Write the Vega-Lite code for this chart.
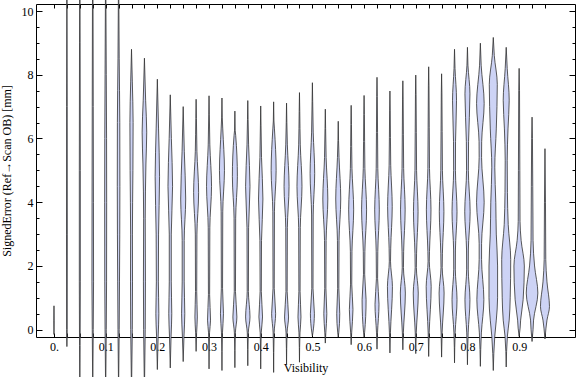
{
  "$schema": "https://vega.github.io/schema/vega-lite/v6.json",
  "width": 539,
  "height": 333,
  "autosize": "none",
  "padding": {"left": 36, "top": 4, "right": 1, "bottom": 40},
  "background": "white",
  "config": {
    "view": {"stroke": "#000", "strokeWidth": 1},
    "axis": {
      "labelFont": "Liberation Serif",
      "labelFontSize": 12,
      "labelColor": "#000",
      "titleFont": "Liberation Serif",
      "titleFontSize": 12,
      "titleFontWeight": "normal",
      "titleColor": "#000",
      "tickColor": "#000",
      "tickWidth": 1,
      "domain": false,
      "grid": false,
      "labelOverlap": false,
      "labelFlush": false,
      "labelBound": false
    }
  },
  "data": {"values": [
    {"v":0,"y":-0.15,"d":0},{"v":0,"y":0.3,"d":0.2},{"v":0,"y":0.75,"d":0},
    {"v":0.025,"y":-0.53,"d":0},{"v":0.025,"y":0,"d":0.3},{"v":0.025,"y":3,"d":0.4},{"v":0.025,"y":7,"d":0.3},{"v":0.025,"y":12,"d":0},
    {"v":0.05,"y":-2,"d":0},{"v":0.05,"y":-0.5,"d":0.3},{"v":0.05,"y":1.5,"d":0.5},{"v":0.05,"y":5,"d":0.5},{"v":0.05,"y":9,"d":0.3},{"v":0.05,"y":12,"d":0},
    {"v":0.075,"y":-2,"d":0},{"v":0.075,"y":0,"d":0.5},{"v":0.075,"y":1.5,"d":0.8},{"v":0.075,"y":4,"d":0.7},{"v":0.075,"y":7,"d":0.5},{"v":0.075,"y":10,"d":0.3},{"v":0.075,"y":12,"d":0},
    {"v":0.1,"y":-2,"d":0},{"v":0.1,"y":0,"d":0.6},{"v":0.1,"y":1.5,"d":0.9},{"v":0.1,"y":4,"d":1.0},{"v":0.1,"y":6,"d":0.9},{"v":0.1,"y":8,"d":0.6},{"v":0.1,"y":10,"d":0.3},{"v":0.1,"y":12,"d":0},
    {"v":0.125,"y":-2,"d":0},{"v":0.125,"y":0,"d":0.6},{"v":0.125,"y":1.5,"d":0.9},{"v":0.125,"y":4.5,"d":1.3},{"v":0.125,"y":6.5,"d":1.2},{"v":0.125,"y":8.5,"d":0.6},{"v":0.125,"y":10.5,"d":0.2},{"v":0.125,"y":12,"d":0},
    {"v":0.15,"y":-2,"d":0},{"v":0.15,"y":0,"d":0.8},{"v":0.15,"y":1.5,"d":1.0},{"v":0.15,"y":3,"d":0.9},{"v":0.15,"y":5,"d":1.4},{"v":0.15,"y":6.5,"d":1.6},{"v":0.15,"y":7.8,"d":0.8},{"v":0.15,"y":8.8,"d":0},
    {"v":0.175,"y":-2,"d":0},{"v":0.175,"y":0,"d":0.8},{"v":0.175,"y":1.5,"d":1.0},{"v":0.175,"y":3.5,"d":0.8},{"v":0.175,"y":5.2,"d":1.5},{"v":0.175,"y":6.2,"d":2.3},{"v":0.175,"y":7.2,"d":1.2},{"v":0.175,"y":8.52,"d":0},
    {"v":0.2,"y":-1.25,"d":0},{"v":0.2,"y":-0.2,"d":0.8},{"v":0.2,"y":0.5,"d":1.5},{"v":0.2,"y":1.5,"d":1.0},{"v":0.2,"y":3,"d":1.2},{"v":0.2,"y":4.8,"d":2.2},{"v":0.2,"y":6.3,"d":1.2},{"v":0.2,"y":7.86,"d":0},
    {"v":0.225,"y":-1.2,"d":0},{"v":0.225,"y":-0.2,"d":0.8},{"v":0.225,"y":0.5,"d":1.5},{"v":0.225,"y":1.5,"d":1.0},{"v":0.225,"y":3,"d":1.0},{"v":0.225,"y":4.5,"d":2.3},{"v":0.225,"y":6,"d":1.1},{"v":0.225,"y":7.37,"d":0},
    {"v":0.25,"y":-1.0,"d":0},{"v":0.25,"y":-0.2,"d":0.8},{"v":0.25,"y":0.5,"d":1.6},{"v":0.25,"y":1.5,"d":1.0},{"v":0.25,"y":2.8,"d":1.0},{"v":0.25,"y":4.1,"d":2.5},{"v":0.25,"y":5.6,"d":1.1},{"v":0.25,"y":7.0,"d":0},
    {"v":0.275,"y":-0.68,"d":0},{"v":0.275,"y":-0.1,"d":0.5},{"v":0.275,"y":0.4,"d":1.2},{"v":0.275,"y":1.2,"d":0.6},{"v":0.275,"y":3.0,"d":0.8},{"v":0.275,"y":4.3,"d":2.5},{"v":0.275,"y":5.6,"d":0.8},{"v":0.275,"y":6.63,"d":0.3},{"v":0.275,"y":7.23,"d":0},
    {"v":0.3,"y":-1.23,"d":0},{"v":0.3,"y":-0.1,"d":0.5},{"v":0.3,"y":0.3,"d":1.5},{"v":0.3,"y":1.1,"d":0.6},{"v":0.3,"y":3.2,"d":0.8},{"v":0.3,"y":4.5,"d":2.5},{"v":0.3,"y":5.8,"d":0.8},{"v":0.3,"y":6.74,"d":0.3},{"v":0.3,"y":7.34,"d":0},
    {"v":0.325,"y":-1.28,"d":0},{"v":0.325,"y":-0.1,"d":0.5},{"v":0.325,"y":0.5,"d":1.5},{"v":0.325,"y":1.3,"d":0.6},{"v":0.325,"y":3.7,"d":0.8},{"v":0.325,"y":5.0,"d":2.5},{"v":0.325,"y":6.3,"d":0.8},{"v":0.325,"y":6.67,"d":0.3},{"v":0.325,"y":7.27,"d":0},
    {"v":0.35,"y":-1.19,"d":0},{"v":0.35,"y":-0.1,"d":0.5},{"v":0.35,"y":0.4,"d":2.0},{"v":0.35,"y":1.2,"d":0.6},{"v":0.35,"y":3.5,"d":0.8},{"v":0.35,"y":4.8,"d":2.5},{"v":0.35,"y":6.1,"d":0.8},{"v":0.35,"y":6.26,"d":0.3},{"v":0.35,"y":6.86,"d":0},
    {"v":0.375,"y":-1.13,"d":0},{"v":0.375,"y":-0.1,"d":0.5},{"v":0.375,"y":0.4,"d":2.2},{"v":0.375,"y":1.2,"d":0.6},{"v":0.375,"y":3.2,"d":0.8},{"v":0.375,"y":4.5,"d":2.2},{"v":0.375,"y":5.8,"d":0.8},{"v":0.375,"y":6.59,"d":0.3},{"v":0.375,"y":7.19,"d":0},
    {"v":0.4,"y":-1.23,"d":0},{"v":0.4,"y":-0.1,"d":0.5},{"v":0.4,"y":0.4,"d":1.8},{"v":0.4,"y":1.2,"d":0.6},{"v":0.4,"y":2.8,"d":0.8},{"v":0.4,"y":4.1,"d":2.2},{"v":0.4,"y":5.4,"d":0.8},{"v":0.4,"y":6.42,"d":0.3},{"v":0.4,"y":7.02,"d":0},
    {"v":0.425,"y":-1.34,"d":0},{"v":0.425,"y":-0.1,"d":0.5},{"v":0.425,"y":0.5,"d":2.0},{"v":0.425,"y":1.3,"d":0.6},{"v":0.425,"y":3.7,"d":0.8},{"v":0.425,"y":5.0,"d":2.5},{"v":0.425,"y":6.3,"d":0.8},{"v":0.425,"y":6.55,"d":0.3},{"v":0.425,"y":7.15,"d":0},
    {"v":0.45,"y":-1.1,"d":0},{"v":0.45,"y":-0.1,"d":0.5},{"v":0.45,"y":0.4,"d":2.0},{"v":0.45,"y":1.2,"d":0.6},{"v":0.45,"y":3.2,"d":0.8},{"v":0.45,"y":4.5,"d":2.5},{"v":0.45,"y":5.8,"d":0.8},{"v":0.45,"y":6.51,"d":0.3},{"v":0.45,"y":7.11,"d":0},
    {"v":0.475,"y":-1.02,"d":0},{"v":0.475,"y":-0.1,"d":0.5},{"v":0.475,"y":0.4,"d":1.5},{"v":0.475,"y":1.2,"d":0.6},{"v":0.475,"y":3.2,"d":0.8},{"v":0.475,"y":4.5,"d":2.5},{"v":0.475,"y":5.8,"d":0.8},{"v":0.475,"y":6.84,"d":0.3},{"v":0.475,"y":7.44,"d":0},
    {"v":0.5,"y":-0.2,"d":0},{"v":0.5,"y":-0.1,"d":0.5},{"v":0.5,"y":0.5,"d":2.0},{"v":0.5,"y":1.3,"d":0.6},{"v":0.5,"y":3.6,"d":0.8},{"v":0.5,"y":4.9,"d":2.3},{"v":0.5,"y":6.2,"d":0.8},{"v":0.5,"y":7.15,"d":0.3},{"v":0.5,"y":7.75,"d":0},
    {"v":0.525,"y":-0.42,"d":0},{"v":0.525,"y":-0.1,"d":0.5},{"v":0.525,"y":0.5,"d":1.5},{"v":0.525,"y":1.3,"d":0.6},{"v":0.525,"y":2.8,"d":0.8},{"v":0.525,"y":4.1,"d":2.5},{"v":0.525,"y":5.4,"d":0.8},{"v":0.525,"y":6.32,"d":0.3},{"v":0.525,"y":6.92,"d":0},
    {"v":0.55,"y":-0.23,"d":0},{"v":0.55,"y":-0.1,"d":0.5},{"v":0.55,"y":0.5,"d":1.5},{"v":0.55,"y":1.3,"d":0.6},{"v":0.55,"y":2.8,"d":0.8},{"v":0.55,"y":4.1,"d":2.5},{"v":0.55,"y":5.4,"d":0.8},{"v":0.55,"y":5.94,"d":0.3},{"v":0.55,"y":6.54,"d":0},
    {"v":0.575,"y":-0.47,"d":0},{"v":0.575,"y":-0.1,"d":0.5},{"v":0.575,"y":0.63,"d":1.8},{"v":0.575,"y":1.43,"d":0.6},{"v":0.575,"y":2.46,"d":0.8},{"v":0.575,"y":3.76,"d":2.5},{"v":0.575,"y":5.06,"d":0.8},{"v":0.575,"y":6.44,"d":0.3},{"v":0.575,"y":7.04,"d":0},
    {"v":0.6,"y":-0.23,"d":0},{"v":0.6,"y":-0.1,"d":0.5},{"v":0.6,"y":0.94,"d":2.0},{"v":0.6,"y":1.74,"d":0.6},{"v":0.6,"y":2.46,"d":0.8},{"v":0.6,"y":3.76,"d":2.5},{"v":0.6,"y":5.06,"d":0.8},{"v":0.6,"y":6.75,"d":0.3},{"v":0.6,"y":7.35,"d":0},
    {"v":0.625,"y":-0.61,"d":0},{"v":0.625,"y":-0.1,"d":0.5},{"v":0.625,"y":0.8,"d":2.0},{"v":0.625,"y":1.6,"d":0.6},{"v":0.625,"y":2.46,"d":0.8},{"v":0.625,"y":3.76,"d":2.3},{"v":0.625,"y":5.06,"d":0.8},{"v":0.625,"y":7.32,"d":0.3},{"v":0.625,"y":7.92,"d":0},
    {"v":0.65,"y":-0.73,"d":0},{"v":0.65,"y":-0.1,"d":0.5},{"v":0.65,"y":1.35,"d":2.5},{"v":0.65,"y":2.15,"d":0.6},{"v":0.65,"y":2.56,"d":0.8},{"v":0.65,"y":3.86,"d":2.3},{"v":0.65,"y":5.16,"d":0.8},{"v":0.65,"y":6.89,"d":0.3},{"v":0.65,"y":7.49,"d":0},
    {"v":0.675,"y":-0.63,"d":0},{"v":0.675,"y":-0.1,"d":0.5},{"v":0.675,"y":1.15,"d":2.5},{"v":0.675,"y":1.95,"d":0.6},{"v":0.675,"y":2.46,"d":0.8},{"v":0.675,"y":3.76,"d":2.3},{"v":0.675,"y":5.06,"d":0.8},{"v":0.675,"y":7.21,"d":0.3},{"v":0.675,"y":7.81,"d":0},
    {"v":0.7,"y":-0.75,"d":0},{"v":0.7,"y":-0.1,"d":0.5},{"v":0.7,"y":1.15,"d":2.5},{"v":0.7,"y":1.95,"d":0.6},{"v":0.7,"y":2.4,"d":0.8},{"v":0.7,"y":3.7,"d":2.3},{"v":0.7,"y":5.0,"d":0.8},{"v":0.7,"y":7.39,"d":0.3},{"v":0.7,"y":7.99,"d":0},
    {"v":0.725,"y":-0.84,"d":0},{"v":0.725,"y":-0.1,"d":0.5},{"v":0.725,"y":1.35,"d":2.5},{"v":0.725,"y":2.15,"d":0.6},{"v":0.725,"y":2.46,"d":0.8},{"v":0.725,"y":3.76,"d":2.3},{"v":0.725,"y":5.06,"d":0.8},{"v":0.725,"y":7.65,"d":0.3},{"v":0.725,"y":8.25,"d":0},
    {"v":0.75,"y":-0.86,"d":0},{"v":0.75,"y":-0.1,"d":0.5},{"v":0.75,"y":1.15,"d":2.5},{"v":0.75,"y":1.95,"d":0.6},{"v":0.75,"y":2.4,"d":0.8},{"v":0.75,"y":3.7,"d":2.3},{"v":0.75,"y":5.0,"d":0.8},{"v":0.75,"y":7.43,"d":0.3},{"v":0.75,"y":8.03,"d":0},
    {"v":0.775,"y":-1.04,"d":0},{"v":0.775,"y":-0.1,"d":0.6},{"v":0.775,"y":0.94,"d":2.5},{"v":0.775,"y":1.9,"d":0.8},{"v":0.775,"y":2.5,"d":0.9},{"v":0.775,"y":3.7,"d":2.5},{"v":0.775,"y":5.0,"d":0.9},{"v":0.775,"y":5.9,"d":1.0},{"v":0.775,"y":7.2,"d":2.0},{"v":0.775,"y":8.2,"d":0.5},{"v":0.775,"y":8.8,"d":0},
    {"v":0.8,"y":-1.1,"d":0},{"v":0.8,"y":-0.1,"d":0.7},{"v":0.8,"y":0.94,"d":2.5},{"v":0.8,"y":1.9,"d":0.8},{"v":0.8,"y":2.5,"d":0.9},{"v":0.8,"y":3.7,"d":2.7},{"v":0.8,"y":5.0,"d":0.9},{"v":0.8,"y":5.9,"d":1.1},{"v":0.8,"y":7.4,"d":2.5},{"v":0.8,"y":8.3,"d":0.5},{"v":0.8,"y":8.86,"d":0},
    {"v":0.825,"y":-1.15,"d":0},{"v":0.825,"y":-0.1,"d":1.0},{"v":0.825,"y":0.94,"d":3.5},{"v":0.825,"y":2.2,"d":1.2},{"v":0.825,"y":2.7,"d":1.2},{"v":0.825,"y":4.0,"d":3.8},{"v":0.825,"y":5.4,"d":1.2},{"v":0.825,"y":5.9,"d":1.3},{"v":0.825,"y":7.1,"d":3.8},{"v":0.825,"y":8.3,"d":0.8},{"v":0.825,"y":8.99,"d":0},
    {"v":0.85,"y":-1.28,"d":0},{"v":0.85,"y":-0.2,"d":1.5},{"v":0.85,"y":0.3,"d":3.0},{"v":0.85,"y":1.0,"d":4.3},{"v":0.85,"y":2.0,"d":4.3},{"v":0.85,"y":3.0,"d":3.0},{"v":0.85,"y":4.0,"d":2.5},{"v":0.85,"y":5.1,"d":1.5},{"v":0.85,"y":6.3,"d":3.0},{"v":0.85,"y":7.7,"d":4.0},{"v":0.85,"y":8.6,"d":1.0},{"v":0.85,"y":9.17,"d":0},
    {"v":0.875,"y":-1.17,"d":0},{"v":0.875,"y":-0.2,"d":1.2},{"v":0.875,"y":0.3,"d":3.0},{"v":0.875,"y":1.0,"d":4.0},{"v":0.875,"y":2.2,"d":4.5},{"v":0.875,"y":3.3,"d":2.0},{"v":0.875,"y":4.3,"d":1.2},{"v":0.875,"y":5.3,"d":1.0},{"v":0.875,"y":6.3,"d":1.8},{"v":0.875,"y":7.2,"d":3.0},{"v":0.875,"y":8.2,"d":1.0},{"v":0.875,"y":8.86,"d":0},
    {"v":0.9,"y":-0.21,"d":0},{"v":0.9,"y":0.05,"d":1.0},{"v":0.9,"y":0.3,"d":1.5},{"v":0.9,"y":0.94,"d":4.0},{"v":0.9,"y":2.0,"d":5.2},{"v":0.9,"y":2.8,"d":2.0},{"v":0.9,"y":3.4,"d":0.9},{"v":0.9,"y":5.0,"d":0.7},{"v":0.9,"y":7.5,"d":0.4},{"v":0.9,"y":8.2,"d":0},
    {"v":0.925,"y":-0.37,"d":0},{"v":0.925,"y":0,"d":1.0},{"v":0.925,"y":0.3,"d":1.5},{"v":0.925,"y":1.15,"d":5.8},{"v":0.925,"y":2.0,"d":2.5},{"v":0.925,"y":2.8,"d":1.0},{"v":0.925,"y":4.5,"d":0.7},{"v":0.925,"y":6.0,"d":0.4},{"v":0.925,"y":6.67,"d":0},
    {"v":0.95,"y":-0.29,"d":0},{"v":0.95,"y":0.05,"d":1.0},{"v":0.95,"y":0.3,"d":2.0},{"v":0.95,"y":0.73,"d":4.5},{"v":0.95,"y":1.5,"d":2.0},{"v":0.95,"y":2.2,"d":0.8},{"v":0.95,"y":4.0,"d":0.5},{"v":0.95,"y":5.68,"d":0}
  ]},
  "transform": [
    {"calculate": "datum.v - datum.d * 0.001935", "as": "lo"},
    {"calculate": "datum.v + datum.d * 0.001935", "as": "hi"}
  ],
  "layer": [
    {
      "mark": {"type": "area", "orient": "horizontal", "interpolate": "monotone", "fill": "#cdd3f5", "fillOpacity": 1, "stroke": "#333333", "strokeWidth": 0.9, "strokeOpacity": 0.9, "clip": false},
      "encoding": {
        "y": {"field": "y", "type": "quantitative", "scale": {"domain": [-0.229, 10.22], "nice": false, "zero": false},
          "axis": {"orient": "left", "title": "SignedError (Ref\u2192Scan OB) [mm]", "titlePadding": 8,
            "values": [0,0.5,1,1.5,2,2.5,3,3.5,4,4.5,5,5.5,6,6.5,7,7.5,8,8.5,9,9.5,10],
            "labelExpr": "datum.value % 2 == 0 ? format(datum.value, 'd') : ''",
            "tickSize": {"condition": {"test": "datum.value % 2 == 0", "value": -6}, "value": -3},
            "labelPadding": 9}},
        "x": {"field": "lo", "type": "quantitative", "stack": null, "scale": {"domain": [-0.0348, 1.0081], "nice": false, "zero": false},
          "axis": {"orient": "bottom", "title": "Visibility", "titlePadding": 10,
            "values": [0,0.025,0.05,0.075,0.1,0.125,0.15,0.175,0.2,0.225,0.25,0.275,0.3,0.325,0.35,0.375,0.4,0.425,0.45,0.475,0.5,0.525,0.55,0.575,0.6,0.625,0.65,0.675,0.7,0.725,0.75,0.775,0.8,0.825,0.85,0.875,0.9,0.925,0.95],
            "labelExpr": "round(datum.value * 40) % 4 == 0 ? (datum.value == 0 ? '0.' : format(datum.value, '.1f')) : ''",
            "tickSize": -4, "labelPadding": 8}},
        "x2": {"field": "hi"},
        "detail": {"field": "v", "type": "nominal"}
      }
    },
    {
      "mark": {"type": "point", "opacity": 0},
      "encoding": {
        "y": {"field": "y", "type": "quantitative", "scale": {"domain": [-0.229, 10.22], "nice": false, "zero": false},
          "axis": {"orient": "right", "title": null, "labels": false,
            "values": [0,0.5,1,1.5,2,2.5,3,3.5,4,4.5,5,5.5,6,6.5,7,7.5,8,8.5,9,9.5,10],
            "tickSize": {"condition": {"test": "datum.value % 2 == 0", "value": -6}, "value": -3}}},
        "x": {"field": "v", "type": "quantitative", "scale": {"domain": [-0.0348, 1.0081], "nice": false, "zero": false},
          "axis": {"orient": "top", "title": null, "labels": false,
            "values": [0,0.025,0.05,0.075,0.1,0.125,0.15,0.175,0.2,0.225,0.25,0.275,0.3,0.325,0.35,0.375,0.4,0.425,0.45,0.475,0.5,0.525,0.55,0.575,0.6,0.625,0.65,0.675,0.7,0.725,0.75,0.775,0.8,0.825,0.85,0.875,0.9,0.925,0.95],
            "tickSize": -4}}
      }
    }
  ],
  "resolve": {"axis": {"x": "independent", "y": "independent"}}
}
